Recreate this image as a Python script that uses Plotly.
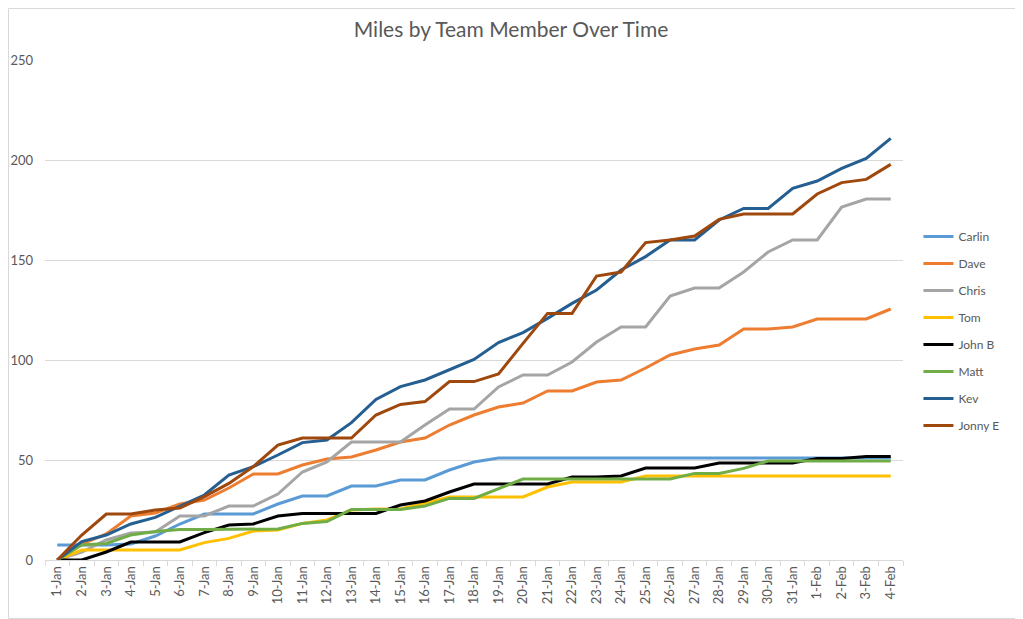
import plotly.graph_objects as go

dates = ([f"{d}-Jan" for d in range(1, 32)] + [f"{d}-Feb" for d in range(1, 5)])

carlin = [7.5, 7.5, 7.5, 8, 12, 18, 23, 23, 23, 28, 32, 32, 37, 37, 40, 40, 45, 49, 51,
          51, 51, 51, 51, 51, 51, 51, 51, 51, 51, 51, 51, 51, 51, 51, 51]
dave = [0, 8, 13, 22, 23.5, 28, 30, 36, 43, 43, 47.5, 50.5, 51.5, 55, 59, 61, 67.5, 72.5,
        76.5, 78.5, 84.5, 84.5, 89, 90, 96, 102.5, 105.5, 107.5, 115.5, 115.5, 116.5,
        120.5, 120.5, 120.5, 125.5]
chris = [0, 4, 10, 13.5, 14, 22, 22, 27, 27, 33, 44, 49, 59, 59, 59, 67.5, 75.5, 75.5,
         86.5, 92.5, 92.5, 99, 109, 116.5, 116.5, 132, 136, 136, 144, 154, 160, 160,
         176.5, 180.5, 180.5]
tom = [0, 5, 5, 5, 5, 5, 8.7, 10.8, 14.5, 15, 18.3, 20, 25, 25.5, 25.5, 28.5, 31.5, 31.5,
       31.5, 31.5, 36.5, 39, 39, 39, 42, 42, 42, 42, 42, 42, 42, 42, 42, 42, 42]
john_b = [0, 0, 4, 9, 9, 9, 13.7, 17.5, 18, 22, 23.3, 23.3, 23.3, 23.3, 27.5, 29.5, 34, 38,
          38, 38, 38, 41.5, 41.5, 42, 46, 46, 46, 48.5, 48.5, 48.5, 48.5, 50.8, 50.8,
          51.7, 51.7]
matt = [0, 7.5, 8.3, 12.5, 14.2, 15.3, 15.3, 15.3, 15.5, 15.5, 18.3, 19.2, 25.3, 25.3,
        25.3, 27, 30.8, 30.8, 35.8, 40.5, 40.5, 40.5, 40.5, 40.5, 40.5, 40.5, 43.3, 43.3,
        45.8, 49.5, 49.5, 49.5, 49.5, 49.5, 49.5]
kev = [0, 9.2, 12.5, 18, 21.3, 26.7, 32.5, 42.5, 46.7, 52.5, 58.7, 60, 68.7, 80.3, 86.7,
       90, 95, 100.3, 108.7, 113.7, 120.8, 128.3, 135, 145, 151.7, 160, 160, 170, 175.8,
       175.8, 185.8, 189.5, 195.8, 200.8, 210.8]
jonny_e = [0, 12.5, 23, 23, 25, 26, 31.7, 38.3, 46.7, 57.5, 61, 61, 61, 72.5, 77.8, 79.2,
           89.2, 89.2, 93, 108.3, 123.3, 123.3, 142, 144, 158.7, 160, 162, 170.3, 173,
           173, 173, 183, 188.7, 190.3, 197.8]

series = [
    ("Carlin", carlin, "#5B9BD5"),
    ("Dave", dave, "#ED7D31"),
    ("Chris", chris, "#A5A5A5"),
    ("Tom", tom, "#FFC000"),
    ("John B", john_b, "#000000"),
    ("Matt", matt, "#70AD47"),
    ("Kev", kev, "#255E91"),
    ("Jonny E", jonny_e, "#9E480E"),
]

FONT = "Lato, Carlito, Calibri, sans-serif"
TXT = "#595959"
GRID = "#D9D9D9"

fig = go.Figure()
for i, (name, vals, color) in enumerate(series):
    fig.add_trace(go.Scatter(
        x=dates, y=vals, name=name, mode="lines",
        line=dict(color=color, width=3),
        legendgroup=f"g{i}",
    ))

# the page body adds an 8px offset; the figure is sized to fill the rest of the window
W, H = 1015, 611
L, R, T, B = 37, 120, 52, 59
pw, ph = W - L - R, H - T - B

fig.update_layout(
    width=W, height=H,
    margin=dict(l=L, r=R, t=T, b=B, autoexpand=False),
    paper_bgcolor="white", plot_bgcolor="white",
    font=dict(family=FONT, color=TXT, size=12),
    title=dict(text="Miles by Team Member Over Time", x=(511 - 8) / W, xanchor="center",
               y=1 - 22 / H, yanchor="middle",
               font=dict(family=FONT, size=21, color=TXT)),
    showlegend=True,
    legend=dict(x=1.018, xanchor="left", y=0.458, yanchor="middle",
                font=dict(family=FONT, size=12, color=TXT),
                traceorder="grouped", tracegroupgap=8,
                bgcolor="rgba(0,0,0,0)"),
    xaxis=dict(
        type="category", range=[-0.5, len(dates) - 0.5],
        tickangle=-90, tickson="boundaries",
        ticks="outside", ticklen=5, tickcolor=GRID,
        showline=True, linecolor=GRID, linewidth=1,
        showgrid=False, zeroline=False,
        tickfont=dict(family=FONT, size=13, color=TXT),
    ),
    yaxis=dict(
        range=[0, 250], dtick=50, tick0=0,
        showgrid=True, gridcolor=GRID, gridwidth=1,
        showline=False, zeroline=False, ticks="",
        ticklabelstandoff=11,
        tickfont=dict(family=FONT, size=13, color=TXT),
    ),
)

fig.add_shape(type="rect", xref="paper", yref="paper",
              x0=(0.5 - L) / pw, x1=(W - 0.5 - L) / pw,
              y0=(T + ph - (H - 0.5)) / ph, y1=(T + ph - 0.5) / ph,
              line=dict(color=GRID, width=1), fillcolor="rgba(0,0,0,0)", layer="below")

fig.write_html("out.html")
